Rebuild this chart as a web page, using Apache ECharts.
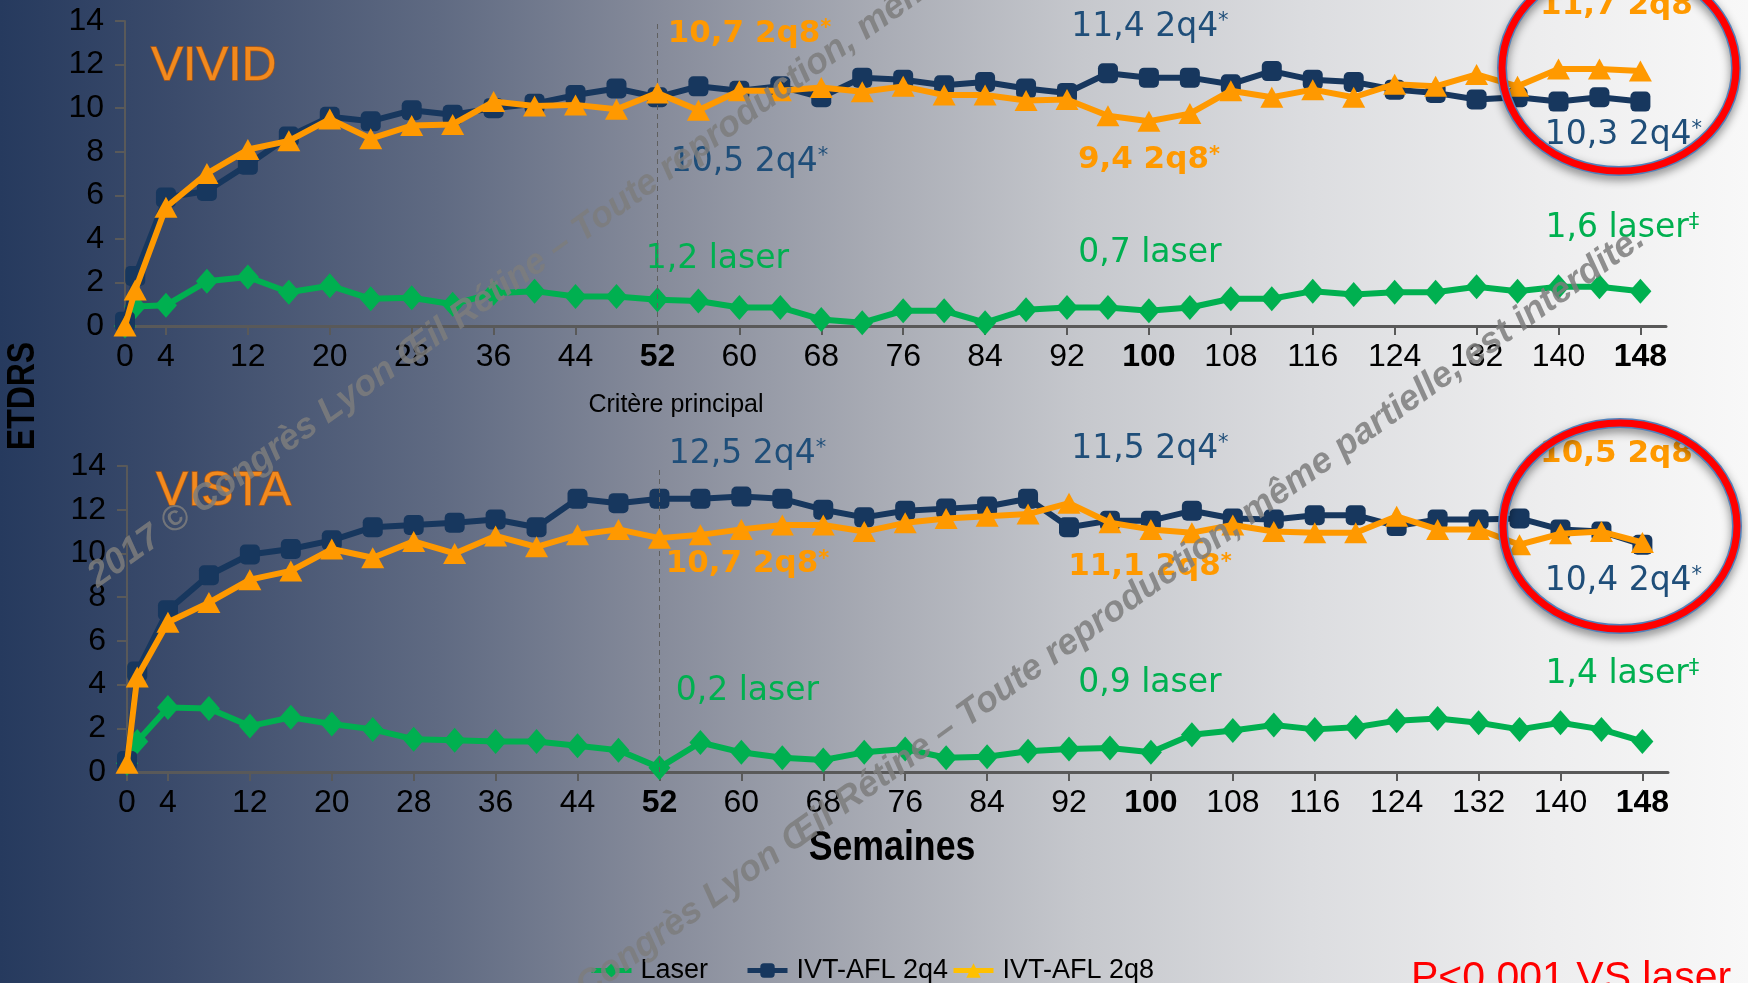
<!DOCTYPE html>
<html>
<head>
<meta charset="utf-8">
<script src="https://cdn.jsdelivr.net/npm/echarts@6/dist/echarts.min.js"></script>
<style>
  html, body { margin: 0; padding: 0; overflow: hidden; }
  #chart { width: 1748px; height: 983px; }
</style>
</head>
<body>
<div id="chart"></div>
<script>
// ---- data -------------------------------------------------------------
const weeks = [0, 1, 4, 8, 12, 16, 20, 24, 28, 32, 36, 40, 44, 48, 52, 56, 60, 64, 68, 72,
  76, 80, 84, 88, 92, 96, 100, 104, 108, 112, 116, 120, 124, 128, 132, 136, 140, 144, 148];
const weekTicks = [0, 4, 12, 20, 28, 36, 44, 52, 60, 68, 76, 84, 92, 100, 108, 116, 124, 132, 140, 148];
const boldWeeks = [52, 100, 148];
const legendNames = ['Laser', 'IVT-AFL 2q4', 'IVT-AFL 2q8'];

// VIVID – mean change in ETDRS letters
const vividLaser = [0, 0.9, 0.95, 2.05, 2.25, 1.55, 1.85, 1.25, 1.3, 1.0, 1.5, 1.6, 1.35, 1.35, 1.2, 1.15, 0.85, 0.85, 0.3, 0.15,
  0.7, 0.7, 0.15, 0.75, 0.85, 0.85, 0.7, 0.85, 1.25, 1.25, 1.6, 1.45, 1.55, 1.55, 1.8, 1.6, 1.8, 1.8, 1.6];
const vivid2q4 = [0.2, 2.3, 5.9, 6.2, 7.4, 8.7, 9.6, 9.4, 9.9, 9.7, 10.0, 10.2, 10.6, 10.9, 10.5, 11.0, 10.8, 11.0, 10.5, 11.4,
  11.3, 11.05, 11.2, 10.9, 10.7, 11.6, 11.4, 11.4, 11.1, 11.7, 11.3, 11.2, 10.85, 10.7, 10.4, 10.5, 10.3, 10.5, 10.3];
const vivid2q8 = [0, 1.65, 5.45, 7.0, 8.1, 8.5, 9.5, 8.6, 9.2, 9.25, 10.3, 10.1, 10.15, 9.95, 10.7, 9.9, 10.8, 10.8, 10.95, 10.75,
  11.0, 10.6, 10.6, 10.35, 10.4, 9.65, 9.4, 9.75, 10.8, 10.5, 10.85, 10.5, 11.1, 11.0, 11.55, 11.0, 11.8, 11.8, 11.7];

// VISTA – mean change in ETDRS letters
const vistaLaser = [0.4, 1.4, 2.95, 2.9, 2.1, 2.5, 2.2, 1.95, 1.5, 1.45, 1.4, 1.4, 1.2, 1.0, 0.2, 1.35, 0.9, 0.65, 0.55, 0.9,
  1.05, 0.65, 0.7, 0.95, 1.05, 1.1, 0.9, 1.7, 1.9, 2.15, 1.95, 2.05, 2.35, 2.45, 2.25, 1.95, 2.25, 1.95, 1.4];
const vista2q4 = [0.5, 4.6, 7.4, 9.0, 9.95, 10.2, 10.6, 11.2, 11.3, 11.4, 11.55, 11.2, 12.5, 12.3, 12.5, 12.5, 12.6, 12.5, 12.0, 11.65,
  11.95, 12.05, 12.15, 12.5, 11.2, 11.5, 11.5, 11.95, 11.6, 11.55, 11.75, 11.75, 11.25, 11.55, 11.55, 11.6, 11.1, 11.0, 10.4];
const vista2q8 = [0.4, 4.35, 6.85, 7.75, 8.8, 9.2, 10.2, 9.8, 10.55, 10.0, 10.8, 10.3, 10.85, 11.1, 10.7, 10.85, 11.1, 11.3, 11.3, 11.0,
  11.4, 11.6, 11.7, 11.8, 12.3, 11.4, 11.1, 10.95, 11.3, 11.0, 10.95, 10.95, 11.7, 11.1, 11.1, 10.4, 10.9, 11.0, 10.5];

// weeks whose value is written out, and the footnote sign that follows it
const noteMarks = {
  laser: { 52: '', 100: '', 148: '\u2021' },
  q4: { 52: '*', 100: '*', 148: '*' },
  q8: { 52: '*', 100: '*', 148: '' }
};
const noteTags = { laser: 'laser', q4: '2q4', q8: '2q8' };

// ---- layout -----------------------------------------------------------
// where each value note sits relative to its point (px)
const noteOffsets = {
  vivid: {
    laser: { 52: [60, -40], 100: [1, -57], 148: [-18, -63] },
    q4: { 52: [92, 65], 100: [1, -50], 148: [-17, 34] },
    q8: { 52: [92, -59], 100: [0, 39], 148: [-24, -65] }
  },
  vista: {
    laser: { 52: [88, -76], 100: [-1, -69], 148: [-20, -67] },
    q4: { 52: [88, -44], 100: [-1, -71], 148: [-19, 37] },
    q8: { 52: [88, 26], 100: [-1, 38], 148: [-26, -89] }
  }
};

const FONT_AXIS = '"Liberation Sans", Arial, sans-serif';
const FONT_NOTE = '"DejaVu Sans", sans-serif';

const COLORS = { laser: '#00B050', q4: '#17375E', q8: '#FF9900' };
const NOTE_COLORS = { laser: '#00B050', q4: '#1F4E79', q8: '#FF9900' };
const SYMBOLS = {
  laser: { symbol: 'diamond', size: [22, 25] },
  q4: { symbol: 'roundRect', size: [20, 20] },
  q8: { symbol: 'triangle', size: [23, 21] }
};
const AXIS_GREY = '#595959';

function noteText(v, key, week) {
  const num = v.toFixed(1).replace('.', ',');
  const mark = noteMarks[key][week];
  return '{t|' + num + ' ' + noteTags[key] + '}' + (mark ? '{s|' + mark + '}' : '');
}

function makeSeries(panel, key, values, gridIndex) {
  const name = legendNames[['laser', 'q4', 'q8'].indexOf(key)];
  const bold = key === 'q8';
  const offsets = noteOffsets[panel][key];
  const data = weeks.map((w, i) => {
    const item = { value: [w, values[i]] };
    if (offsets[w]) {
      item.label = { show: true, position: 'inside', offset: offsets[w], formatter: noteText(values[i], key, w) };
    }
    return item;
  });
  const s = {
    type: 'line',
    name: name,
    xAxisIndex: gridIndex,
    yAxisIndex: gridIndex,
    data: data,
    symbol: SYMBOLS[key].symbol,
    symbolSize: SYMBOLS[key].size,
    showAllSymbol: true,
    lineStyle: { color: COLORS[key], width: 6 },
    itemStyle: { color: COLORS[key] },
    emphasis: { disabled: true },
    label: {
      show: false,
      color: NOTE_COLORS[key],
      textBorderWidth: 0,
      align: 'center',
      verticalAlign: 'middle',
      rich: {
        t: { fontFamily: FONT_NOTE, fontSize: bold ? 31 : 33, fontWeight: bold ? 'bold' : 'normal', color: NOTE_COLORS[key] },
        s: { fontFamily: FONT_NOTE, fontSize: 21, fontWeight: bold ? 'bold' : 'normal', color: NOTE_COLORS[key], verticalAlign: 'top' }
      }
    },
    z: key === 'laser' ? 3 : key === 'q4' ? 4 : 5
  };
  if (key === 'laser') {
    s.markLine = {
      silent: true, symbol: 'none', animation: false,
      label: { show: false },
      lineStyle: { type: [5, 4], color: '#5f5f5f', width: 1 },
      data: [{ xAxis: 52 }]
    };
  }
  return s;
}

function xAxisFor(gridIndex) {
  return {
    type: 'value', gridIndex: gridIndex, min: 0, max: 150.5,
    axisLine: { show: true, onZero: true, lineStyle: { color: AXIS_GREY, width: 3 } },
    axisTick: { show: true, customValues: weekTicks, length: 9, lineStyle: { color: AXIS_GREY, width: 2 } },
    axisLabel: {
      customValues: weekTicks, margin: 15, color: '#000', fontFamily: FONT_AXIS, fontSize: 32,
      formatter: v => boldWeeks.includes(v) ? '{b|' + v + '}' : String(v),
      rich: { b: { fontFamily: FONT_AXIS, fontSize: 32, fontWeight: 'bold', color: '#000' } }
    },
    splitLine: { show: false }
  };
}

function yAxisFor(gridIndex) {
  return {
    type: 'value', gridIndex: gridIndex, min: 0, max: 14, interval: 2,
    axisLine: { show: true, onZero: false, lineStyle: { color: AXIS_GREY, width: 2 } },
    axisTick: { show: true, length: 10, lineStyle: { color: AXIS_GREY, width: 2 } },
    axisLabel: { margin: 21, color: '#000', fontFamily: FONT_AXIS, fontSize: 32 },
    splitLine: { show: false }
  };
}

function legendFor(name, left, color) {
  return {
    left: left, top: 952,
    itemWidth: 40, itemHeight: 18,
    textStyle: { fontFamily: FONT_AXIS, fontSize: 27, color: '#000', padding: [0, 0, 0, 4] },
    data: [{ name: name, itemStyle: { color: color }, lineStyle: { color: color, width: 5 } }]
  };
}

const watermark = '2017 \u00A9 Congr\u00E8s Lyon \u0152il R\u00E9tine \u2013 Toute reproduction, m\u00EAme partielle, est interdite.';
const wmAngle = 35.5 * Math.PI / 180;

function titleText(text, x, y) {
  return {
    type: 'text', z: 10, silent: true, x: x, y: y,
    style: {
      text: text, fontFamily: FONT_AXIS, fontSize: 48, fill: '#F28A1E',
      stroke: '#B55A12', lineWidth: 1.4, align: 'left', verticalAlign: 'middle',
      shadowColor: 'rgba(0,0,0,0.35)', shadowBlur: 3, shadowOffsetX: 2, shadowOffsetY: 2
    }
  };
}

function ring(cx, cy) {
  return [
    {
      type: 'ellipse', z: 20, silent: true,
      shape: { cx: cx, cy: cy, rx: 117, ry: 103 },
      style: { fill: 'transparent', stroke: '#4F81BD', lineWidth: 10, shadowColor: 'rgba(0,0,0,0.45)', shadowBlur: 10, shadowOffsetY: 4 }
    },
    {
      type: 'ellipse', z: 21, silent: true,
      shape: { cx: cx, cy: cy, rx: 117, ry: 103 },
      style: { fill: 'transparent', stroke: '#FF0000', lineWidth: 7 }
    }
  ];
}

function watermarkText(x, y) {
  return {
    type: 'text', z: 100, silent: true, x: x, y: y, rotation: wmAngle,
    style: { text: watermark, fontFamily: FONT_AXIS, fontWeight: 'bold', fontStyle: 'italic', fontSize: 36, fill: 'rgba(125,125,125,0.85)', align: 'left', verticalAlign: 'middle' }
  };
}

const chart = echarts.init(document.getElementById('chart'), null, { renderer: 'canvas' });

chart.setOption({
  animation: false,
  grid: [
    { left: 125, top: 21, width: 1541, height: 305 },
    { left: 127, top: 466, width: 1541, height: 306 }
  ],
  xAxis: [xAxisFor(0), xAxisFor(1)],
  yAxis: [yAxisFor(0), yAxisFor(1)],
  legend: [
    legendFor('Laser', 584, COLORS.laser),
    legendFor('IVT-AFL 2q4', 740, COLORS.q4),
    legendFor('IVT-AFL 2q8', 946, '#FFC000')
  ],
  series: [
    makeSeries('vivid', 'laser', vividLaser, 0),
    makeSeries('vivid', 'q4', vivid2q4, 0),
    makeSeries('vivid', 'q8', vivid2q8, 0),
    makeSeries('vista', 'laser', vistaLaser, 1),
    makeSeries('vista', 'q4', vista2q4, 1),
    makeSeries('vista', 'q8', vista2q8, 1)
  ],
  graphic: [
    // slide background
    {
      type: 'rect', z: -100, silent: true,
      shape: { x: 0, y: 0, width: 1748, height: 983 },
      style: {
        fill: new echarts.graphic.LinearGradient(0, 0, 1, 0, [
          { offset: 0, color: '#263a5e' },
          { offset: 0.1, color: '#3b4b6b' },
          { offset: 0.25, color: '#5f6a82' },
          { offset: 0.38, color: '#878c9b' },
          { offset: 0.5, color: '#a8abb4' },
          { offset: 0.62, color: '#c6c8cd' },
          { offset: 0.75, color: '#dcdde0' },
          { offset: 0.88, color: '#ededee' },
          { offset: 1, color: '#f8f8f8' }
        ])
      }
    },
    // study names
    titleText('VIVID', 151, 67),
    titleText('VISTA', 156, 492),
    // axis titles and notes
    {
      type: 'text', z: 10, silent: true, x: 23, y: 396, rotation: Math.PI / 2, scaleX: 0.82,
      style: { text: 'ETDRS', fontFamily: FONT_AXIS, fontWeight: 'bold', fontSize: 39, fill: '#000', align: 'center', verticalAlign: 'middle' }
    },
    {
      type: 'text', z: 10, silent: true, x: 892, y: 848, scaleX: 0.83,
      style: { text: 'Semaines', fontFamily: FONT_AXIS, fontWeight: 'bold', fontSize: 43, fill: '#000', align: 'center', verticalAlign: 'middle' }
    },
    {
      type: 'text', z: 10, silent: true, x: 676, y: 405,
      style: { text: 'Crit\u00E8re principal', fontFamily: FONT_AXIS, fontSize: 25, fill: '#000', align: 'center', verticalAlign: 'middle' }
    },
    {
      type: 'text', z: 10, silent: true, x: 1411, y: 979,
      style: { text: 'P<0.001 VS laser', fontFamily: FONT_AXIS, fontSize: 41, fill: '#FF0000', align: 'left', verticalAlign: 'middle' }
    },
    // highlight rings around week-148 values
    ...ring(1619, 68),
    ...ring(1620, 526),
    // copyright overlay
    watermarkText(92, 580),
    watermarkText(477, 1065)
  ]
});
</script>
</body>
</html>
